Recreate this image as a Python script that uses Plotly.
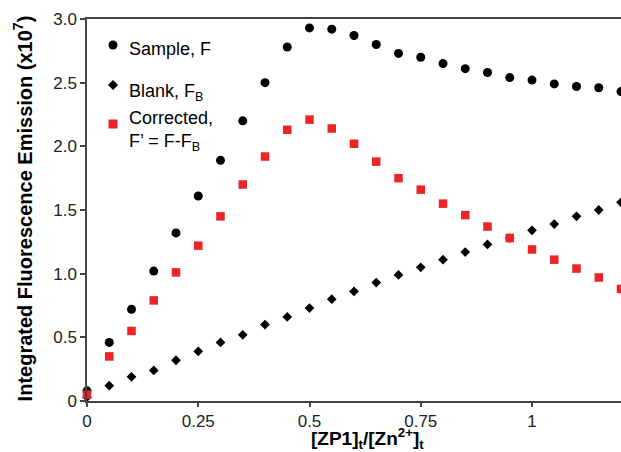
import plotly.graph_objects as go

# Titration data: mole ratio [ZP1]t/[Zn2+]t and integrated emission (x10^7)
ratio = [0.00, 0.05, 0.10, 0.15, 0.20, 0.25, 0.30, 0.35, 0.40, 0.45, 0.50, 0.55,
         0.60, 0.65, 0.70, 0.75, 0.80, 0.85, 0.90, 0.95, 1.00, 1.05, 1.10, 1.15, 1.20]
sample_F = [0.08, 0.46, 0.72, 1.02, 1.32, 1.61, 1.89, 2.20, 2.50, 2.78, 2.93, 2.92,
            2.87, 2.80, 2.73, 2.70, 2.65, 2.61, 2.58, 2.54, 2.52, 2.49, 2.47, 2.46, 2.43]
blank_FB = [0.03, 0.12, 0.19, 0.24, 0.32, 0.39, 0.46, 0.52, 0.60, 0.66, 0.73, 0.80,
            0.86, 0.93, 0.99, 1.05, 1.11, 1.17, 1.23, 1.28, 1.34, 1.39, 1.45, 1.50, 1.56]
corrected = [0.05, 0.35, 0.55, 0.79, 1.01, 1.22, 1.45, 1.70, 1.92, 2.13, 2.21, 2.14,
             2.02, 1.88, 1.75, 1.66, 1.55, 1.46, 1.37, 1.28, 1.19, 1.11, 1.04, 0.97, 0.88]

x_ticks = [0, 0.25, 0.5, 0.75, 1]
x_tick_text = ["0", "0.25", "0.5", "0.75", "1"]
y_ticks = [0, 0.5, 1.0, 1.5, 2.0, 2.5, 3.0]
y_tick_text = ["0", "0.5", "1.0", "1.5", "2.0", "2.5", "3.0"]

FONT = "Liberation Sans, Arial, Helvetica, sans-serif"
RED = "#EC2327"
AXIS = "#444444"

fig = go.Figure()
fig.add_trace(go.Scatter(x=ratio, y=blank_FB, mode="markers", name="Blank",
                         marker=dict(symbol="diamond", size=7.5, color="black"),
                         cliponaxis=False))
fig.add_trace(go.Scatter(x=ratio, y=sample_F, mode="markers", name="Sample",
                         marker=dict(symbol="circle", size=9, color="black"),
                         cliponaxis=False))
fig.add_trace(go.Scatter(x=ratio, y=corrected, mode="markers", name="Corrected",
                         marker=dict(symbol="square", size=8.5, color=RED),
                         cliponaxis=False))

# Hand-drawn key in the upper-left corner of the plot
KX = 0.0487   # symbol column (paper)
TX = 0.0749   # text column (paper)
key_font = dict(family=FONT, size=18, color="black")
annotations = [
    dict(text="Sample, F", x=TX, y=0.922),
    dict(text="Blank, F<sub>B</sub>", x=TX, y=0.808),
    dict(text="Corrected,", x=TX, y=0.740),
    dict(text="F’ = F-F<sub>B</sub>", x=TX, y=0.678),
]
annotations = [dict(a, xref="paper", yref="paper", xanchor="left", yanchor="middle",
                    showarrow=False, font=key_font) for a in annotations]

# Axis titles
annotations.append(dict(
    text="<b>[ZP1]<sub>t</sub>/[Zn<sup>2+</sup>]<sub>t</sub></b>",
    x=0.526, y=-0.099, xref="paper", yref="paper", xanchor="center", yanchor="middle",
    showarrow=False, font=dict(family=FONT, size=19, color="black")))
annotations.append(dict(
    text="<b>Integrated Fluorescence Emission (x10<sup>7</sup>)</b>",
    x=-0.12, y=0.504, xref="paper", yref="paper", xanchor="center", yanchor="middle",
    textangle=-90, showarrow=False, font=dict(family=FONT, size=20, color="black")))

shapes = [
    dict(type="circle", xref="paper", yref="paper", xsizemode="pixel", ysizemode="pixel",
         xanchor=KX, yanchor=(401 - 45) / 382, x0=-4.5, x1=4.5, y0=-4.5, y1=4.5,
         fillcolor="black", line=dict(width=0)),
    dict(type="path", xref="paper", yref="paper", xsizemode="pixel", ysizemode="pixel",
         xanchor=KX, yanchor=(401 - 85) / 382, path="M -5,0 L 0,5 L 5,0 L 0,-5 Z",
         fillcolor="black", line=dict(width=0)),
    dict(type="rect", xref="paper", yref="paper", xsizemode="pixel", ysizemode="pixel",
         xanchor=KX, yanchor=(401 - 124) / 382, x0=-4.5, x1=4.5, y0=-4.5, y1=4.5,
         fillcolor=RED, line=dict(width=0)),
]

fig.update_layout(
    width=621, height=452,
    margin=dict(l=87, r=0, t=19, b=51),
    paper_bgcolor="white", plot_bgcolor="white",
    showlegend=False,
    annotations=annotations,
    shapes=shapes,
    font=dict(family=FONT),
)
fig.update_xaxes(
    range=[0, 1.2], tickvals=x_ticks, ticktext=x_tick_text,
    showgrid=False, zeroline=False,
    showline=True, linecolor=AXIS, linewidth=1.5, mirror=True,
    ticks="outside", ticklen=4, tickwidth=1.5, tickcolor=AXIS,
    tickfont=dict(family=FONT, size=17, color="#222222"),
)
fig.update_yaxes(
    range=[0, 3], tickvals=y_ticks, ticktext=y_tick_text,
    showgrid=False, zeroline=False,
    showline=True, linecolor=AXIS, linewidth=1.5,
    ticks="outside", ticklen=5, tickwidth=1.5, tickcolor=AXIS,
    tickfont=dict(family=FONT, size=17, color="#222222"),
)

fig.write_html("out.html")
